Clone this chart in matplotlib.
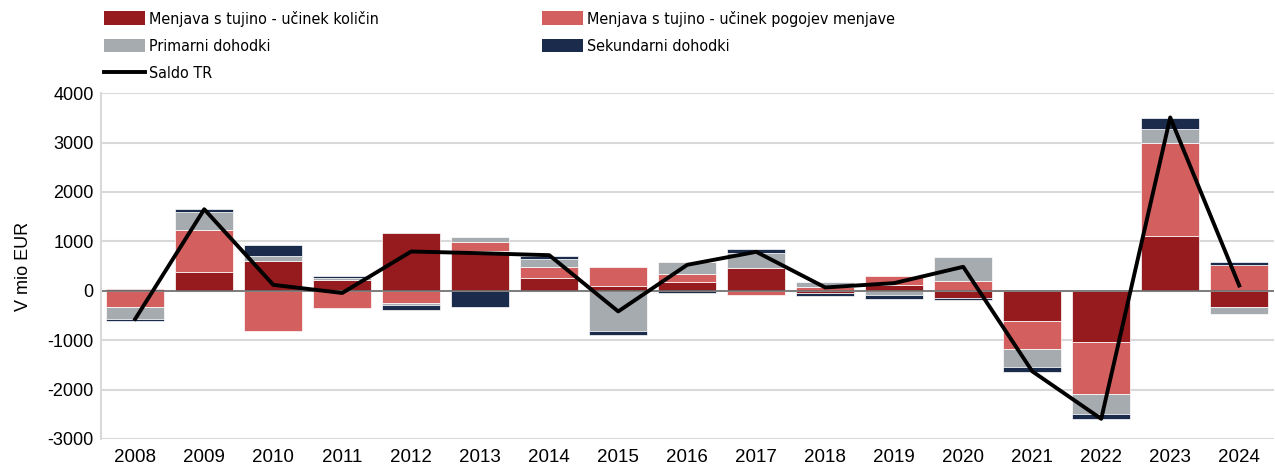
import numpy as np
import matplotlib.pyplot as plt
from matplotlib.lines import Line2D
from matplotlib.patches import Patch

plt.rcParams['axes.unicode_minus'] = False

years = [str(y) for y in range(2008, 2025)]
kolicine = [40, 370, 610, 210, 1170, 810, 250, 100, 170, 470, -40, 108, -150, -620, -1044, 1111, -323]
pogoji = [-320, 850, -820, -350, -250, 180, 240, 375, 160, -88, 80, 195, 188, -552, -1037, 1885, 519]
primarni = [-260, 380, 95, 40, -47, 95, 160, -820, 250, 296, 95, -80, 490, -377, -404, 276, -148]
sekundarni = [-25, 55, 220, 55, -95, -330, 55, -67, -55, 88, -60, -80, -35, -95, -108, 215, 60]
saldo = [-570, 1650, 120, -45, 795, 760, 720, -418, 525, 788, 67, 155, 485, -1630, -2592, 3508, 107]

series = [
    ('Menjava s tujino - učinek količin', kolicine, '#951b1e'),
    ('Menjava s tujino - učinek pogojev menjave', pogoji, '#d45f5f'),
    ('Primarni dohodki', primarni, '#a6abb0'),
    ('Sekundarni dohodki', sekundarni, '#1a2b4c'),
]

fig = plt.figure(figsize=(12.75, 4.68), dpi=100)
ax = fig.add_axes([0.079, 0.062, 0.92, 0.739])

x = np.arange(len(years))
pos = np.zeros(len(years))
neg = np.zeros(len(years))
handles = []
for name, vals, col in series:
    v = np.array(vals, dtype=float)
    bottom = np.where(v >= 0, pos, neg)
    ax.bar(x, v, 0.84, bottom=bottom, color=col, edgecolor='white', linewidth=0.5, zorder=2)
    pos += np.where(v >= 0, v, 0)
    neg += np.where(v < 0, v, 0)
    handles.append(Patch(facecolor=col, label=name))

ax.plot(x, saldo, color='black', lw=2.8, zorder=3)
ax.axhline(0, color='#6e6e6e', lw=1.2, zorder=2.5)
handles.append(Line2D([], [], color='black', lw=2.8, label='Saldo TR'))

ax.set_ylim(-3000, 4000)
ax.set_yticks(range(-3000, 4001, 1000))
ax.set_xlim(-0.5, len(years) - 0.5)
ax.set_xticks(x)
ax.set_xticklabels(years)
ax.grid(axis='y', color='#d9d9d9', lw=1.5, zorder=0)
ax.set_axisbelow(True)
for s in ['top', 'right', 'bottom']:
    ax.spines[s].set_visible(False)
ax.spines['left'].set_color('#d9d9d9')
ax.spines['left'].set_linewidth(1.5)
ax.tick_params(axis='y', length=0, labelsize=13, colors='black', pad=5)
ax.tick_params(axis='x', length=0, labelsize=13.5, colors='black', pad=7)
for lab in ax.get_xticklabels() + ax.get_yticklabels():
    lab.set_family('Liberation Sans')
ax.set_ylabel('V mio EUR', fontsize=13, family='Liberation Sans', labelpad=11)

order = [handles[0], handles[2], handles[4], handles[1], handles[3]]
fig.legend(handles=order, ncol=2, loc='upper left', bbox_to_anchor=(0.07, 1.008),
           frameon=False, prop={'family': 'DejaVu Sans', 'stretch': 'condensed', 'size': 11.5},
           handlelength=2.6, handleheight=0.9, handletextpad=0.25, columnspacing=10.2,
           labelspacing=0.75)

fig.savefig('out.png', dpi=100)
